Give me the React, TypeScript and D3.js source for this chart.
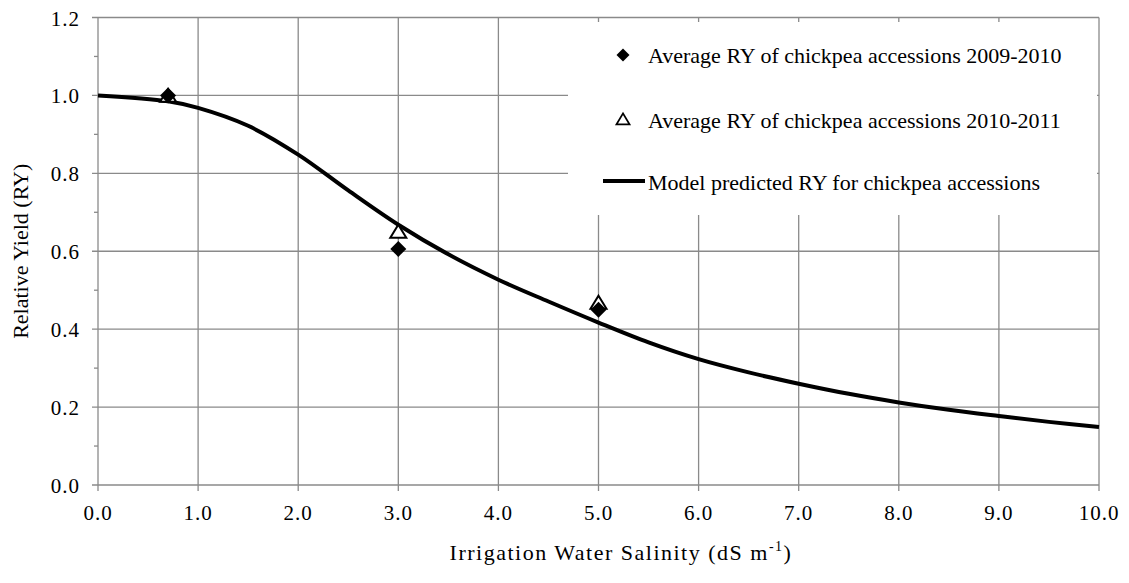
import React from "react";
import * as d3 from "d3";

const xTicks = [0, 1, 2, 3, 4, 5, 6, 7, 8, 9, 10];
const yTicks = [0, 0.2, 0.4, 0.6, 0.8, 1.0, 1.2];
const yMinorTicks = [0.1, 0.3, 0.5, 0.7, 0.9, 1.1];

const salinity2009 = [0.7, 3.0, 5.0];
const ry2009 = [1.0, 0.606, 0.45];
const salinity2010 = [0.7, 3.0, 5.0];
const ry2010 = [0.997, 0.648, 0.466];

const modelEC = [0, 0.7, 1.0, 1.5, 2.0, 2.5, 3.0, 3.5, 4.0, 4.5, 5.0, 5.5, 6.0, 6.5, 7.0, 7.5, 8.0, 8.5, 9.0, 9.5, 10.0];
const modelRY = [1.0, 0.985, 0.968, 0.922, 0.848, 0.756, 0.668, 0.592, 0.527, 0.471, 0.417, 0.366, 0.323, 0.289, 0.26, 0.234, 0.212, 0.193, 0.177, 0.162, 0.149];

const legendLabels = [
  "Average RY of chickpea accessions 2009-2010",
  "Average RY of chickpea accessions 2010-2011",
  "Model predicted RY for chickpea accessions",
];

const FONT = '"Liberation Serif", "Times New Roman", Tinos, "DejaVu Serif", serif';
const GRID = "#8a8a8a";

function diamond(cx: number, cy: number, r: number) {
  return `M${cx},${cy - r}L${cx + r},${cy}L${cx},${cy + r}L${cx - r},${cy}Z`;
}
function triangle(cx: number, cy: number, w: number, h: number) {
  return `M${cx},${cy - h * 0.6}L${cx + w / 2},${cy + h * 0.4}L${cx - w / 2},${cy + h * 0.4}Z`;
}

export default function App() {
  const W = 1129;
  const H = 583;
  const x = d3.scaleLinear().domain([0, 10]).range([98, 1099]);
  const y = d3.scaleLinear().domain([0, 1.2]).range([485, 17.5]);

  const line = d3
    .line<number>()
    .x((_, i) => x(modelEC[i]))
    .y((d) => y(d))
    .curve(d3.curveCatmullRom.alpha(0.5));

  const lg = { x0: 568, y0: 22, x1: 1097, y1: 215 };
  const textStyle = { fontFamily: FONT };

  return (
    <svg
      width={W}
      height={H}
      style={{ position: "absolute", left: 0, top: 0, display: "block", background: "#fff", fontFamily: FONT }}
    >
      <rect x={0} y={0} width={W} height={H} fill="#fff" />
      {/* gridlines */}
      {yTicks.map((t) => (
        <line key={"gy" + t} x1={x(0) - 6} x2={x(10)} y1={y(t)} y2={y(t)} stroke={GRID} strokeWidth={1.3} />
      ))}
      {yMinorTicks.map((t) => (
        <line key={"my" + t} x1={x(0) - 4} x2={x(0)} y1={y(t)} y2={y(t)} stroke={GRID} strokeWidth={1.3} />
      ))}
      {xTicks.map((t) => (
        <line key={"gx" + t} x1={x(t)} x2={x(t)} y1={y(1.2)} y2={y(0) + 6} stroke={GRID} strokeWidth={1.3} />
      ))}
      {/* legend background */}
      <rect x={lg.x0} y={lg.y0} width={lg.x1 - lg.x0} height={lg.y1 - lg.y0} fill="#fff" />
      {/* tick labels */}
      {yTicks.map((t) => (
        <text key={"ly" + t} x={80} y={y(t) + 8} textAnchor="end" fontSize={21} letterSpacing={1} fill="#000" style={textStyle}>
          {t.toFixed(1)}
        </text>
      ))}
      {xTicks.map((t) => (
        <text key={"lx" + t} x={x(t)} y={520} textAnchor="middle" fontSize={21} letterSpacing={1} fill="#000" style={textStyle}>
          {t.toFixed(1)}
        </text>
      ))}
      {/* model curve */}
      <path d={line(modelRY) || ""} fill="none" stroke="#000" strokeWidth={4} />
      {/* triangles */}
      {salinity2010.map((s, i) => (
        <path key={"t" + i} d={triangle(x(s), y(ry2010[i]), 16, 13)} fill="#fff" stroke="#000" strokeWidth={2} strokeLinejoin="miter" />
      ))}
      {/* diamonds */}
      {salinity2009.map((s, i) => (
        <path key={"d" + i} d={diamond(x(s), y(ry2009[i]), 8)} fill="#000" />
      ))}
      {/* legend */}
      <path d={diamond(623, 55, 6.5)} fill="#000" />
      <text x={648} y={63} fontSize={22} fill="#000" style={textStyle}>{legendLabels[0]}</text>
      <path d={triangle(623, 120, 13, 11)} fill="#fff" stroke="#000" strokeWidth={1.8} />
      <text x={648} y={128} fontSize={22} fill="#000" style={textStyle}>{legendLabels[1]}</text>
      <line x1={603} x2={645} y1={181} y2={181} stroke="#000" strokeWidth={4} />
      <text x={648} y={190} fontSize={22} fill="#000" style={textStyle}>{legendLabels[2]}</text>
      {/* axis titles */}
      <text x={621} y={560} textAnchor="middle" fontSize={22} letterSpacing={1.5} fill="#000" style={textStyle}>
        Irrigation Water Salinity (dS m<tspan fontSize={14} dy={-9}>-1</tspan><tspan dy={9}>)</tspan>
      </text>
      <text transform={`translate(28,${y(0.6)}) rotate(-90)`} textAnchor="middle" fontSize={22} fill="#000" style={textStyle}>
        Relative Yield (RY)
      </text>
    </svg>
  );
}
